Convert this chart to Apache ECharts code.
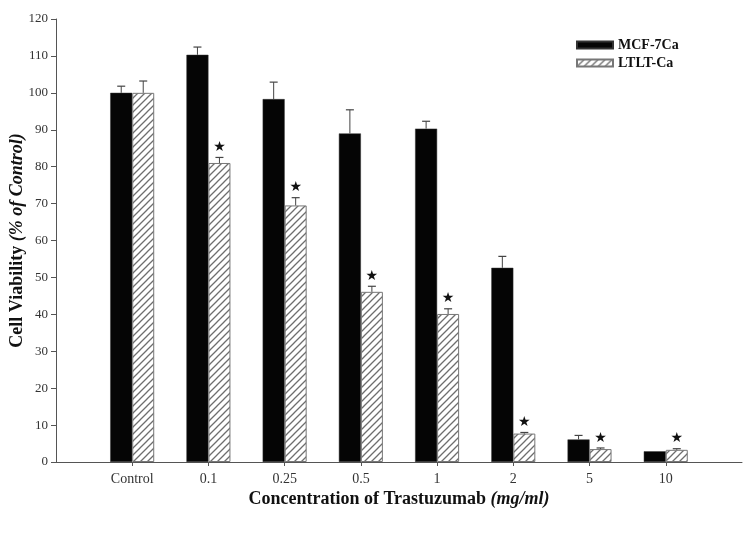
<!DOCTYPE html>
<html>
<head>
<meta charset="utf-8">
<script src="https://cdn.jsdelivr.net/npm/echarts@6/dist/echarts.min.js"></script>
<style>
html,body{margin:0;padding:0;background:#fff;}
#chart{width:750px;height:555px;}
</style>
</head>
<body>
<div id="chart"></div>
<script>
// ---- data ----
const categories = ['', 'Control', '0.1', '0.25', '0.5', '1', '2', '5', '10', ''];
const mcfValues  = [null, 100, 110.3, 98.3, 89.0, 90.3, 52.6, 6.1, 2.9, null];
const mcfErrors  = [null, 1.8, 2.1, 4.6, 6.4, 2.0, 3.1, 1.1, 0, null];
const ltltValues = [null, 100, 81.0, 69.5, 46.1, 40.1, 7.7, 3.5, 3.3, null];
const ltltErrors = [null, 3.2, 1.5, 2.1, 1.5, 1.4, 0.3, 0.3, 0.3, null];
const ltltSignificant = [false, false, true, true, true, true, true, true, true, false];
const yTicks = { min: 0, max: 120, interval: 10 };
const seriesNames = ['MCF-7Ca', 'LTLT-Ca'];

// ---- hatch pattern ----
function makeHatch() {
  const s = 7;
  const c = document.createElement('canvas');
  c.width = s; c.height = s;
  const ctx = c.getContext('2d');
  ctx.fillStyle = '#ffffff';
  ctx.fillRect(0, 0, s, s);
  ctx.strokeStyle = '#6e6e6e';
  ctx.lineWidth = 1.3;
  ctx.beginPath();
  ctx.moveTo(-1, s + 1); ctx.lineTo(s + 1, -1);
  ctx.moveTo(-1, 1); ctx.lineTo(1, -1);
  ctx.moveTo(s - 1, s + 1); ctx.lineTo(s + 1, s - 1);
  ctx.stroke();
  return c;
}
const hatch = { image: makeHatch(), repeat: 'repeat' };

const FONT = 'Liberation Serif';
const BAR_W = 22;

const chart = echarts.init(document.getElementById('chart'));

function errorRenderer(values, errors, offset, stars) {
  return function (params, api) {
    const idx = api.value(0);
    const v = values[idx], e = errors[idx];
    if (v == null) return;
    const base = api.coord([idx, v]);
    const top = api.coord([idx, v + e]);
    const x = base[0] + offset;
    const children = [];
    if (e > 0) {
      children.push({
        type: 'line',
        shape: { x1: x, y1: base[1], x2: x, y2: top[1] },
        style: { stroke: '#444', lineWidth: 1 }
      });
      children.push({
        type: 'line',
        shape: { x1: x - 4, y1: top[1], x2: x + 4, y2: top[1] },
        style: { stroke: '#444', lineWidth: 1.2 }
      });
    }
    if (stars && stars[idx]) {
      children.push({
        type: 'text',
        style: {
          text: '★', x: x, y: top[1] - 3,
          align: 'center', verticalAlign: 'bottom',
          font: '14px "DejaVu Sans"', fill: '#111'
        }
      });
    }
    return { type: 'group', children: children };
  };
}

const idxData = categories.map((c, i) => [i]);

chart.setOption({
  animation: false,
  backgroundColor: '#ffffff',
  grid: { left: 56, right: 8, top: 19, bottom: 93, outerBoundsMode: 'none', containLabel: false },
  legend: {
    orient: 'vertical',
    left: 571, top: 33,
    icon: 'rect',
    itemWidth: 36, itemHeight: 7, itemGap: 4,
    data: seriesNames,
    textStyle: { fontFamily: FONT, fontWeight: 'bold', fontSize: 14, color: '#111' }
  },
  xAxis: {
    type: 'category',
    data: categories,
    boundaryGap: false,
    axisLine: { lineStyle: { color: '#555', width: 1 } },
    axisTick: { length: 4, inside: false, lineStyle: { color: '#555' },
      interval: function (i) { return i > 0 && i < categories.length - 1; } },
    axisLabel: { fontFamily: FONT, fontSize: 14, color: '#333', margin: 10,
      interval: 0 },
    name: '{b|Concentration of Trastuzumab }{i|(mg/ml)}',
    nameLocation: 'middle',
    nameGap: 28,
    nameMoveOverlap: false,
    nameTextStyle: {
      rich: {
        b: { fontFamily: FONT, fontWeight: 'bold', fontSize: 18, color: '#111' },
        i: { fontFamily: FONT, fontWeight: 'bold', fontStyle: 'italic', fontSize: 18, color: '#111' }
      }
    }
  },
  yAxis: {
    type: 'value',
    min: yTicks.min, max: yTicks.max, interval: yTicks.interval,
    splitLine: { show: false },
    axisLine: { show: true, lineStyle: { color: '#555', width: 1 } },
    axisTick: { show: true, length: 5, lineStyle: { color: '#555' } },
    axisLabel: { fontFamily: FONT, fontSize: 13, color: '#333', margin: 8 },
    name: '{b|Cell Viability }{i|(% of Control)}',
    nameLocation: 'middle',
    nameGap: 30,
    nameMoveOverlap: false,
    nameTextStyle: {
      rich: {
        b: { fontFamily: FONT, fontWeight: 'bold', fontSize: 18, color: '#111' },
        i: { fontFamily: FONT, fontWeight: 'bold', fontStyle: 'italic', fontSize: 18, color: '#111' }
      }
    }
  },
  series: [
    {
      name: seriesNames[0], type: 'bar', data: mcfValues,
      barWidth: BAR_W, barGap: '0%',
      itemStyle: { color: '#050505', borderColor: '#333', borderWidth: 0.5 }
    },
    {
      name: seriesNames[1], type: 'bar', data: ltltValues,
      barWidth: BAR_W, barGap: '0%',
      itemStyle: { color: hatch, borderColor: '#777', borderWidth: 1 }
    },
    {
      type: 'custom', data: idxData, z: 5, silent: true,
      renderItem: errorRenderer(mcfValues, mcfErrors, -BAR_W / 2, null)
    },
    {
      type: 'custom', data: idxData, z: 5, silent: true,
      renderItem: errorRenderer(ltltValues, ltltErrors, BAR_W / 2, ltltSignificant)
    }
  ]
});
</script>
</body>
</html>
